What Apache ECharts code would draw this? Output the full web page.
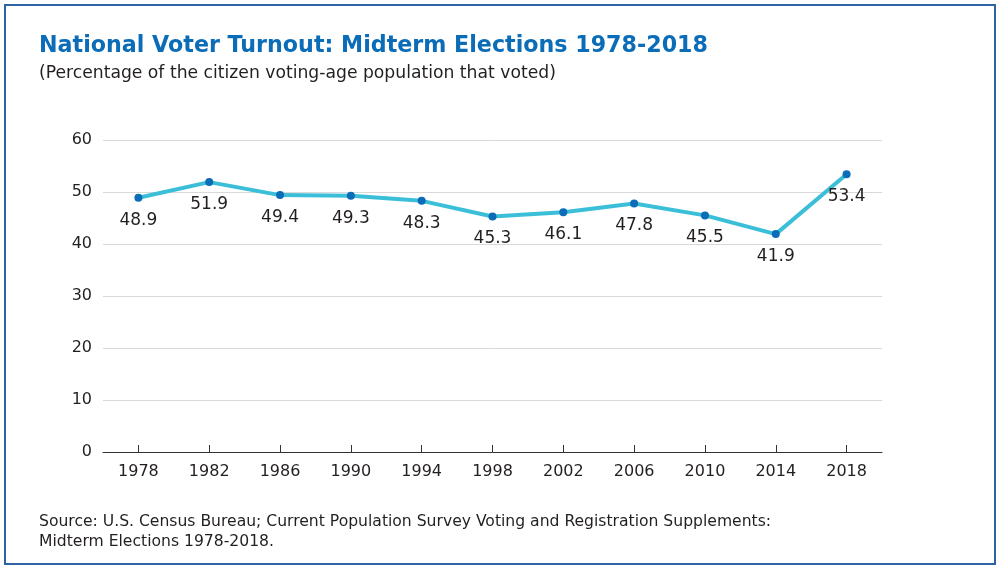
<!DOCTYPE html>
<html>
<head>
<meta charset="utf-8">
<title>National Voter Turnout</title>
<script src="https://cdn.jsdelivr.net/npm/echarts@6/dist/echarts.min.js"></script>
<style>
  html, body { margin: 0; padding: 0; background: #fff; }
  #frame { position: absolute; left: 4px; top: 4px; width: 988px; height: 557px; border: 2px solid #2f63a5; }
  #main { position: absolute; left: 0; top: 0; width: 1000px; height: 570px; }
</style>
</head>
<body>
<div id="frame"></div>
<div id="main"></div>
<script>
  // years of midterm elections
  var years = ['1978', '1982', '1986', '1990', '1994', '1998', '2002', '2006', '2010', '2014', '2018'];
  // turnout, percent of citizen voting-age population
  var turnout = [48.9, 51.9, 49.4, 49.3, 48.3, 45.3, 46.1, 47.8, 45.5, 41.9, 53.4];

  var font = 'DejaVu Sans';
  var myChart = echarts.init(document.getElementById('main'));
  myChart.setOption({
    animation: false,
    title: [
      {
        text: 'National Voter Turnout: Midterm Elections 1978-2018',
        left: 34, top: 30,
        textStyle: { color: '#0b6cb8', fontSize: 22.2, fontWeight: 'bold', fontFamily: font }
      },
      {
        text: '(Percentage of the citizen voting-age population that voted)',
        left: 34, top: 60,
        textStyle: { color: '#231f20', fontSize: 17.2, fontWeight: 'normal', fontFamily: font }
      },
      {
        text: 'Source: U.S. Census Bureau; Current Population Survey Voting and Registration Supplements:\nMidterm Elections 1978-2018.',
        left: 34, top: 507,
        textStyle: { color: '#231f20', fontSize: 15.6, fontWeight: 'normal', fontFamily: font, lineHeight: 20 }
      }
    ],
    grid: { left: 103, right: 118, top: 140, bottom: 118, containLabel: false },
    xAxis: {
      type: 'category',
      data: years,
      axisLine: { show: true, lineStyle: { color: '#333', width: 1 } },
      axisTick: { show: true, alignWithLabel: true, inside: true, length: 7, lineStyle: { color: '#333', width: 1 } },
      axisLabel: { color: '#231f20', fontSize: 16, fontFamily: font, margin: 12, interval: 0 },
      splitLine: { show: false }
    },
    yAxis: {
      type: 'value',
      min: 0, max: 60, interval: 10,
      axisLine: { show: false },
      axisTick: { show: false },
      axisLabel: { color: '#231f20', fontSize: 16, fontFamily: font, margin: 11 },
      splitLine: { lineStyle: { color: '#d9d9d9', width: 1 } }
    },
    series: [{
      type: 'line',
      data: turnout,
      symbol: 'circle',
      symbolSize: 8,
      lineStyle: { color: '#3bbfd9', width: 4 },
      itemStyle: { color: '#0b6cb8' },
      label: {
        show: true, position: 'bottom', distance: 10,
        color: '#231f20', fontSize: 17, fontFamily: font
      }
    }]
  });
</script>
</body>
</html>
